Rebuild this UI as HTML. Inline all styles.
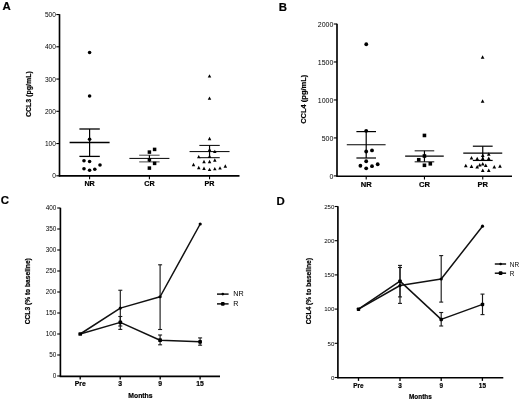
<!DOCTYPE html><html><head><meta charset="utf-8"><style>html,body{margin:0;padding:0;background:#fff;}svg{display:block;will-change:transform;}</style></head><body>
<svg width="520" height="400" viewBox="0 0 520 400" font-family='"Liberation Sans", sans-serif'>
<rect width="520" height="400" fill="#fff"/>
<text x="2.5" y="9.6" font-size="11.4" text-anchor="start" font-weight="bold" fill="#000" stroke="#000" stroke-width="0.2" >A</text>
<line x1="59.5" y1="14.2" x2="59.5" y2="176.5" stroke="#000" stroke-width="1.65"/>
<line x1="58.8" y1="175.8" x2="239.5" y2="175.8" stroke="#000" stroke-width="1.8"/>
<line x1="56.3" y1="175.8" x2="59.5" y2="175.8" stroke="#000" stroke-width="1.1"/>
<text x="55.9" y="178.3128" font-size="6.6" text-anchor="end" font-weight="normal" fill="#000" >0</text>
<line x1="56.3" y1="143.55" x2="59.5" y2="143.55" stroke="#000" stroke-width="1.1"/>
<text x="55.9" y="146.0628" font-size="6.6" text-anchor="end" font-weight="normal" fill="#000" >100</text>
<line x1="56.3" y1="111.3" x2="59.5" y2="111.3" stroke="#000" stroke-width="1.1"/>
<text x="55.9" y="113.8128" font-size="6.6" text-anchor="end" font-weight="normal" fill="#000" >200</text>
<line x1="56.3" y1="79.05" x2="59.5" y2="79.05" stroke="#000" stroke-width="1.1"/>
<text x="55.9" y="81.5628" font-size="6.6" text-anchor="end" font-weight="normal" fill="#000" >300</text>
<line x1="56.3" y1="46.8" x2="59.5" y2="46.8" stroke="#000" stroke-width="1.1"/>
<text x="55.9" y="49.312799999999996" font-size="6.6" text-anchor="end" font-weight="normal" fill="#000" >400</text>
<line x1="56.3" y1="14.55" x2="59.5" y2="14.55" stroke="#000" stroke-width="1.1"/>
<text x="55.9" y="17.0628" font-size="6.6" text-anchor="end" font-weight="normal" fill="#000" >500</text>
<line x1="89.6" y1="175.8" x2="89.6" y2="179.3" stroke="#000" stroke-width="1.1"/>
<text x="89.6" y="186.3" font-size="7.2" text-anchor="middle" font-weight="bold" fill="#000" stroke="#000" stroke-width="0.2" >NR</text>
<line x1="149.4" y1="175.8" x2="149.4" y2="179.3" stroke="#000" stroke-width="1.1"/>
<text x="149.4" y="186.3" font-size="7.2" text-anchor="middle" font-weight="bold" fill="#000" stroke="#000" stroke-width="0.2" >CR</text>
<line x1="209.55" y1="175.8" x2="209.55" y2="179.3" stroke="#000" stroke-width="1.1"/>
<text x="209.55" y="186.3" font-size="7.2" text-anchor="middle" font-weight="bold" fill="#000" stroke="#000" stroke-width="0.2" >PR</text>
<text x="0" y="0" font-size="7.0" text-anchor="middle" font-weight="bold" fill="#000" stroke="#000" stroke-width="0.2" transform="translate(31.3,94.1) rotate(-90)">CCL3 (pg/mL)</text>
<line x1="69.6" y1="142.5" x2="109.6" y2="142.5" stroke="#000" stroke-width="1.3"/>
<line x1="79.39999999999999" y1="129.0" x2="99.8" y2="129.0" stroke="#000" stroke-width="1.3"/>
<line x1="79.39999999999999" y1="156.4" x2="99.8" y2="156.4" stroke="#000" stroke-width="1.3"/>
<line x1="89.6" y1="129.0" x2="89.6" y2="156.4" stroke="#000" stroke-width="1.2"/>
<circle cx="89.6" cy="52.5" r="1.8" fill="#000"/>
<circle cx="89.6" cy="96" r="1.8" fill="#000"/>
<circle cx="89.6" cy="139.2" r="1.8" fill="#000"/>
<circle cx="84" cy="160.8" r="1.8" fill="#000"/>
<circle cx="89.6" cy="161.5" r="1.8" fill="#000"/>
<circle cx="100" cy="165" r="1.8" fill="#000"/>
<circle cx="84" cy="168.75" r="1.8" fill="#000"/>
<circle cx="89.6" cy="170.25" r="1.8" fill="#000"/>
<circle cx="94.8" cy="169.2" r="1.8" fill="#000"/>
<line x1="129.4" y1="158.4" x2="169.4" y2="158.4" stroke="#000" stroke-width="1.0"/>
<line x1="139.20000000000002" y1="155.2" x2="159.6" y2="155.2" stroke="#444" stroke-width="1.0"/>
<line x1="139.20000000000002" y1="161.9" x2="159.6" y2="161.9" stroke="#444" stroke-width="1.0"/>
<line x1="149.4" y1="155.2" x2="149.4" y2="161.9" stroke="#000" stroke-width="1.2"/>
<rect x="147.65" y="150.35" width="3.5" height="3.5" rx="0" fill="#000"/>
<rect x="152.85" y="147.65" width="3.5" height="3.5" rx="0" fill="#000"/>
<rect x="147.65" y="158.00" width="3.5" height="3.5" rx="0" fill="#000"/>
<rect x="152.85" y="161.65" width="3.5" height="3.5" rx="0" fill="#000"/>
<rect x="147.65" y="166.35" width="3.5" height="3.5" rx="0" fill="#000"/>
<line x1="189.55" y1="151.6" x2="229.55" y2="151.6" stroke="#000" stroke-width="1.0"/>
<line x1="199.35000000000002" y1="145.4" x2="219.75" y2="145.4" stroke="#000" stroke-width="1.0"/>
<line x1="199.35000000000002" y1="157.7" x2="219.75" y2="157.7" stroke="#000" stroke-width="1.0"/>
<line x1="209.55" y1="145.4" x2="209.55" y2="157.7" stroke="#000" stroke-width="1.2"/>
<polygon points="209.50,74.24 211.25,77.56 207.75,77.56" fill="#000"/>
<polygon points="209.50,96.44 211.25,99.76 207.75,99.76" fill="#000"/>
<polygon points="209.55,136.84 211.30,140.16 207.80,140.16" fill="#000"/>
<polygon points="209.55,147.84 211.30,151.16 207.80,151.16" fill="#000"/>
<polygon points="214.80,149.79 216.55,153.11 213.05,153.11" fill="#000"/>
<polygon points="198.75,155.04 200.50,158.36 197.00,158.36" fill="#000"/>
<polygon points="209.55,154.59 211.30,157.91 207.80,157.91" fill="#000"/>
<polygon points="204.00,159.84 205.75,163.16 202.25,163.16" fill="#000"/>
<polygon points="209.55,159.84 211.30,163.16 207.80,163.16" fill="#000"/>
<polygon points="214.80,158.34 216.55,161.66 213.05,161.66" fill="#000"/>
<polygon points="193.50,162.84 195.25,166.16 191.75,166.16" fill="#000"/>
<polygon points="225.30,164.34 227.05,167.66 223.55,167.66" fill="#000"/>
<polygon points="198.75,165.84 200.50,169.16 197.00,169.16" fill="#000"/>
<polygon points="204.00,166.59 205.75,169.91 202.25,169.91" fill="#000"/>
<polygon points="209.55,167.64 211.30,170.96 207.80,170.96" fill="#000"/>
<polygon points="214.80,167.04 216.55,170.36 213.05,170.36" fill="#000"/>
<polygon points="220.00,166.14 221.75,169.46 218.25,169.46" fill="#000"/>
<text x="278.8" y="10.8" font-size="11.4" text-anchor="start" font-weight="bold" fill="#000" stroke="#000" stroke-width="0.2" >B</text>
<line x1="337.0" y1="23.8" x2="337.0" y2="176.6" stroke="#000" stroke-width="1.65"/>
<line x1="336.3" y1="176.20000000000002" x2="512" y2="176.20000000000002" stroke="#000" stroke-width="1.5"/>
<line x1="333.8" y1="175.9" x2="337.0" y2="175.9" stroke="#000" stroke-width="1.1"/>
<text x="333.4" y="178.556" font-size="7.0" text-anchor="end" font-weight="normal" fill="#000" >0</text>
<line x1="333.8" y1="137.93" x2="337.0" y2="137.93" stroke="#000" stroke-width="1.1"/>
<text x="333.4" y="140.586" font-size="7.0" text-anchor="end" font-weight="normal" fill="#000" >500</text>
<line x1="333.8" y1="99.95" x2="337.0" y2="99.95" stroke="#000" stroke-width="1.1"/>
<text x="333.4" y="102.60600000000001" font-size="7.0" text-anchor="end" font-weight="normal" fill="#000" >1000</text>
<line x1="333.8" y1="61.97" x2="337.0" y2="61.97" stroke="#000" stroke-width="1.1"/>
<text x="333.4" y="64.626" font-size="7.0" text-anchor="end" font-weight="normal" fill="#000" >1500</text>
<line x1="333.8" y1="24.0" x2="337.0" y2="24.0" stroke="#000" stroke-width="1.1"/>
<text x="333.4" y="26.656" font-size="7.0" text-anchor="end" font-weight="normal" fill="#000" >2000</text>
<line x1="366.2" y1="175.9" x2="366.2" y2="179.5" stroke="#000" stroke-width="1.1"/>
<text x="366.2" y="187.1" font-size="7.6" text-anchor="middle" font-weight="bold" fill="#000" stroke="#000" stroke-width="0.2" >NR</text>
<line x1="424.45" y1="175.9" x2="424.45" y2="179.5" stroke="#000" stroke-width="1.1"/>
<text x="424.45" y="187.1" font-size="7.6" text-anchor="middle" font-weight="bold" fill="#000" stroke="#000" stroke-width="0.2" >CR</text>
<line x1="482.75" y1="175.9" x2="482.75" y2="179.5" stroke="#000" stroke-width="1.1"/>
<text x="482.75" y="187.1" font-size="7.6" text-anchor="middle" font-weight="bold" fill="#000" stroke="#000" stroke-width="0.2" >PR</text>
<text x="0" y="0" font-size="7.5" text-anchor="middle" font-weight="bold" fill="#000" stroke="#000" stroke-width="0.2" transform="translate(305.8,99.25) rotate(-90)">CCL4 (pg/mL)</text>
<line x1="346.8" y1="144.75" x2="385.59999999999997" y2="144.75" stroke="#000" stroke-width="1.2"/>
<line x1="356.4" y1="131.6" x2="376.0" y2="131.6" stroke="#000" stroke-width="1.2"/>
<line x1="356.4" y1="158.0" x2="376.0" y2="158.0" stroke="#000" stroke-width="1.2"/>
<line x1="366.2" y1="131.6" x2="366.2" y2="158.0" stroke="#000" stroke-width="1.2"/>
<circle cx="366.25" cy="44.25" r="1.9" fill="#000"/>
<circle cx="366.2" cy="130.8" r="1.9" fill="#000"/>
<circle cx="366.2" cy="151.5" r="1.9" fill="#000"/>
<circle cx="372" cy="150.4" r="1.9" fill="#000"/>
<circle cx="366.2" cy="161.25" r="1.9" fill="#000"/>
<circle cx="360.4" cy="165.75" r="1.9" fill="#000"/>
<circle cx="366.2" cy="168.3" r="1.9" fill="#000"/>
<circle cx="372" cy="166.2" r="1.9" fill="#000"/>
<circle cx="377.7" cy="164.25" r="1.9" fill="#000"/>
<line x1="405.15" y1="156.2" x2="443.75" y2="156.2" stroke="#000" stroke-width="1.2"/>
<line x1="414.65" y1="150.8" x2="434.25" y2="150.8" stroke="#333" stroke-width="1.2"/>
<line x1="414.65" y1="161.8" x2="434.25" y2="161.8" stroke="#333" stroke-width="1.2"/>
<line x1="424.45" y1="150.8" x2="424.45" y2="161.8" stroke="#000" stroke-width="1.2"/>
<rect x="422.65" y="133.65" width="3.6" height="3.6" rx="0" fill="#000"/>
<rect x="422.65" y="154.20" width="3.6" height="3.6" rx="0" fill="#000"/>
<rect x="416.95" y="157.95" width="3.6" height="3.6" rx="0" fill="#000"/>
<rect x="422.65" y="163.50" width="3.6" height="3.6" rx="0" fill="#000"/>
<rect x="428.50" y="162.00" width="3.6" height="3.6" rx="0" fill="#000"/>
<line x1="463.25" y1="153.1" x2="502.25" y2="153.1" stroke="#000" stroke-width="1.2"/>
<line x1="472.85" y1="146.2" x2="492.65" y2="146.2" stroke="#000" stroke-width="1.2"/>
<line x1="472.85" y1="160.45" x2="492.65" y2="160.45" stroke="#000" stroke-width="1.2"/>
<line x1="482.75" y1="146.2" x2="482.75" y2="160.45" stroke="#000" stroke-width="1.2"/>
<polygon points="482.60,55.24 484.45,58.76 480.75,58.76" fill="#000"/>
<polygon points="482.60,99.24 484.45,102.76 480.75,102.76" fill="#000"/>
<polygon points="482.75,153.44 484.60,156.96 480.90,156.96" fill="#000"/>
<polygon points="488.75,152.24 490.60,155.76 486.90,155.76" fill="#000"/>
<polygon points="471.50,155.99 473.35,159.51 469.65,159.51" fill="#000"/>
<polygon points="477.20,156.74 479.05,160.26 475.35,160.26" fill="#000"/>
<polygon points="482.75,156.44 484.60,159.96 480.90,159.96" fill="#000"/>
<polygon points="488.75,156.44 490.60,159.96 486.90,159.96" fill="#000"/>
<polygon points="465.80,163.74 467.65,167.26 463.95,167.26" fill="#000"/>
<polygon points="471.50,164.54 473.35,168.06 469.65,168.06" fill="#000"/>
<polygon points="477.20,164.99 479.05,168.51 475.35,168.51" fill="#000"/>
<polygon points="479.75,163.04 481.60,166.56 477.90,166.56" fill="#000"/>
<polygon points="482.75,161.99 484.60,165.51 480.90,165.51" fill="#000"/>
<polygon points="485.75,163.49 487.60,167.01 483.90,167.01" fill="#000"/>
<polygon points="494.30,164.99 496.15,168.51 492.45,168.51" fill="#000"/>
<polygon points="500.00,164.24 501.85,167.76 498.15,167.76" fill="#000"/>
<polygon points="482.75,168.44 484.60,171.96 480.90,171.96" fill="#000"/>
<polygon points="488.75,168.44 490.60,171.96 486.90,171.96" fill="#000"/>
<text x="0.8" y="203.7" font-size="11.4" text-anchor="start" font-weight="bold" fill="#000" stroke="#000" stroke-width="0.2" >C</text>
<line x1="60.4" y1="207.8" x2="60.4" y2="376.7" stroke="#000" stroke-width="1.65"/>
<line x1="59.699999999999996" y1="376.3" x2="220" y2="376.3" stroke="#000" stroke-width="1.7"/>
<line x1="57.199999999999996" y1="376.0" x2="60.4" y2="376.0" stroke="#000" stroke-width="1.1"/>
<text x="56.4" y="378.4412" font-size="6.4" text-anchor="end" font-weight="normal" fill="#000" >0</text>
<line x1="57.199999999999996" y1="355.0" x2="60.4" y2="355.0" stroke="#000" stroke-width="1.1"/>
<text x="56.4" y="357.4412" font-size="6.4" text-anchor="end" font-weight="normal" fill="#000" >50</text>
<line x1="57.199999999999996" y1="334.0" x2="60.4" y2="334.0" stroke="#000" stroke-width="1.1"/>
<text x="56.4" y="336.4412" font-size="6.4" text-anchor="end" font-weight="normal" fill="#000" >100</text>
<line x1="57.199999999999996" y1="313.0" x2="60.4" y2="313.0" stroke="#000" stroke-width="1.1"/>
<text x="56.4" y="315.4412" font-size="6.4" text-anchor="end" font-weight="normal" fill="#000" >150</text>
<line x1="57.199999999999996" y1="292.0" x2="60.4" y2="292.0" stroke="#000" stroke-width="1.1"/>
<text x="56.4" y="294.4412" font-size="6.4" text-anchor="end" font-weight="normal" fill="#000" >200</text>
<line x1="57.199999999999996" y1="271.0" x2="60.4" y2="271.0" stroke="#000" stroke-width="1.1"/>
<text x="56.4" y="273.4412" font-size="6.4" text-anchor="end" font-weight="normal" fill="#000" >250</text>
<line x1="57.199999999999996" y1="250.0" x2="60.4" y2="250.0" stroke="#000" stroke-width="1.1"/>
<text x="56.4" y="252.4412" font-size="6.4" text-anchor="end" font-weight="normal" fill="#000" >300</text>
<line x1="57.199999999999996" y1="229.0" x2="60.4" y2="229.0" stroke="#000" stroke-width="1.1"/>
<text x="56.4" y="231.4412" font-size="6.4" text-anchor="end" font-weight="normal" fill="#000" >350</text>
<line x1="57.199999999999996" y1="208.0" x2="60.4" y2="208.0" stroke="#000" stroke-width="1.1"/>
<text x="56.4" y="210.4412" font-size="6.4" text-anchor="end" font-weight="normal" fill="#000" >400</text>
<line x1="80.2" y1="376.0" x2="80.2" y2="379.4" stroke="#000" stroke-width="1.3"/>
<text x="80.2" y="386.0" font-size="6.8" text-anchor="middle" font-weight="bold" fill="#000" stroke="#000" stroke-width="0.2" >Pre</text>
<line x1="120.2" y1="376.0" x2="120.2" y2="379.4" stroke="#000" stroke-width="1.3"/>
<text x="120.2" y="386.0" font-size="6.8" text-anchor="middle" font-weight="bold" fill="#000" stroke="#000" stroke-width="0.2" >3</text>
<line x1="160.2" y1="376.0" x2="160.2" y2="379.4" stroke="#000" stroke-width="1.3"/>
<text x="160.2" y="386.0" font-size="6.8" text-anchor="middle" font-weight="bold" fill="#000" stroke="#000" stroke-width="0.2" >9</text>
<line x1="200.1" y1="376.0" x2="200.1" y2="379.4" stroke="#000" stroke-width="1.3"/>
<text x="200.1" y="386.0" font-size="6.8" text-anchor="middle" font-weight="bold" fill="#000" stroke="#000" stroke-width="0.2" >15</text>
<text x="140.4" y="398.2" font-size="6.8" text-anchor="middle" font-weight="bold" fill="#000" stroke="#000" stroke-width="0.2" >Months</text>
<text x="0" y="0" font-size="6.65" text-anchor="middle" font-weight="bold" fill="#000" stroke="#000" stroke-width="0.2" transform="translate(30.1,291.25) rotate(-90)">CCL3 (% to baseline)</text>
<line x1="120.3" y1="290.25" x2="120.3" y2="326.0" stroke="#1a1a1a" stroke-width="1.15"/>
<line x1="118.3" y1="290.25" x2="122.3" y2="290.25" stroke="#1a1a1a" stroke-width="1.1"/>
<line x1="118.3" y1="326.0" x2="122.3" y2="326.0" stroke="#1a1a1a" stroke-width="1.1"/>
<line x1="120.3" y1="316.5" x2="120.3" y2="329.4" stroke="#1a1a1a" stroke-width="1.15"/>
<line x1="118.3" y1="316.5" x2="122.3" y2="316.5" stroke="#1a1a1a" stroke-width="1.1"/>
<line x1="118.3" y1="329.4" x2="122.3" y2="329.4" stroke="#1a1a1a" stroke-width="1.1"/>
<line x1="160.1" y1="264.8" x2="160.1" y2="329.5" stroke="#1a1a1a" stroke-width="1.15"/>
<line x1="158.1" y1="264.8" x2="162.1" y2="264.8" stroke="#1a1a1a" stroke-width="1.1"/>
<line x1="158.1" y1="329.5" x2="162.1" y2="329.5" stroke="#1a1a1a" stroke-width="1.1"/>
<line x1="160.1" y1="335.0" x2="160.1" y2="344.8" stroke="#1a1a1a" stroke-width="1.15"/>
<line x1="158.1" y1="335.0" x2="162.1" y2="335.0" stroke="#1a1a1a" stroke-width="1.1"/>
<line x1="158.1" y1="344.8" x2="162.1" y2="344.8" stroke="#1a1a1a" stroke-width="1.1"/>
<line x1="200.1" y1="337.9" x2="200.1" y2="345.2" stroke="#1a1a1a" stroke-width="1.15"/>
<line x1="198.1" y1="337.9" x2="202.1" y2="337.9" stroke="#1a1a1a" stroke-width="1.1"/>
<line x1="198.1" y1="345.2" x2="202.1" y2="345.2" stroke="#1a1a1a" stroke-width="1.1"/>
<polyline points="80.2,334 120.3,308.1 160.1,296.75 200.2,224" fill="none" stroke="#111" stroke-width="1.5" stroke-linejoin="round"/>
<polyline points="80.2,334 120.3,322.4 160.1,340.2 200.1,341.8" fill="none" stroke="#111" stroke-width="1.5" stroke-linejoin="round"/>
<circle cx="120.3" cy="308.1" r="1.6" fill="#000"/>
<circle cx="160.1" cy="296.75" r="1.6" fill="#000"/>
<circle cx="200.2" cy="224" r="1.6" fill="#000"/>
<rect x="78.35" y="332.15" width="3.7" height="3.7" rx="0.9" fill="#000"/>
<rect x="118.45" y="320.55" width="3.7" height="3.7" rx="0.9" fill="#000"/>
<rect x="158.25" y="338.35" width="3.7" height="3.7" rx="0.9" fill="#000"/>
<rect x="198.25" y="339.95" width="3.7" height="3.7" rx="0.9" fill="#000"/>
<line x1="217.0" y1="294.1" x2="228.6" y2="294.1" stroke="#000" stroke-width="1.4"/>
<circle cx="222.8" cy="294.1" r="1.3" fill="#000"/>
<text x="233.2" y="296.05" font-size="7.2" text-anchor="start" font-weight="normal" fill="#000" >NR</text>
<line x1="217.0" y1="303.90000000000003" x2="228.6" y2="303.90000000000003" stroke="#000" stroke-width="1.4"/>
<rect x="220.95" y="302.05" width="3.7" height="3.7" rx="1.0" fill="#000"/>
<text x="233.2" y="305.85" font-size="7.2" text-anchor="start" font-weight="normal" fill="#000" >R</text>
<text x="276.4" y="204.8" font-size="11.4" text-anchor="start" font-weight="bold" fill="#000" stroke="#000" stroke-width="0.2" >D</text>
<line x1="337.9" y1="206.3" x2="337.9" y2="378.2" stroke="#000" stroke-width="1.65"/>
<line x1="337.2" y1="377.75" x2="503.3" y2="377.75" stroke="#000" stroke-width="1.6"/>
<line x1="334.7" y1="377.5" x2="337.9" y2="377.5" stroke="#000" stroke-width="1.1"/>
<text x="334.29999999999995" y="379.8338" font-size="6.1" text-anchor="end" font-weight="normal" fill="#000" >0</text>
<line x1="334.7" y1="343.3" x2="337.9" y2="343.3" stroke="#000" stroke-width="1.1"/>
<text x="334.29999999999995" y="345.6338" font-size="6.1" text-anchor="end" font-weight="normal" fill="#000" >50</text>
<line x1="334.7" y1="309.1" x2="337.9" y2="309.1" stroke="#000" stroke-width="1.1"/>
<text x="334.29999999999995" y="311.4338" font-size="6.1" text-anchor="end" font-weight="normal" fill="#000" >100</text>
<line x1="334.7" y1="274.9" x2="337.9" y2="274.9" stroke="#000" stroke-width="1.1"/>
<text x="334.29999999999995" y="277.2338" font-size="6.1" text-anchor="end" font-weight="normal" fill="#000" >150</text>
<line x1="334.7" y1="240.7" x2="337.9" y2="240.7" stroke="#000" stroke-width="1.1"/>
<text x="334.29999999999995" y="243.03379999999999" font-size="6.1" text-anchor="end" font-weight="normal" fill="#000" >200</text>
<line x1="334.7" y1="206.5" x2="337.9" y2="206.5" stroke="#000" stroke-width="1.1"/>
<text x="334.29999999999995" y="208.8338" font-size="6.1" text-anchor="end" font-weight="normal" fill="#000" >250</text>
<line x1="358.5" y1="377.5" x2="358.5" y2="380.9" stroke="#000" stroke-width="1.3"/>
<text x="358.5" y="387.7" font-size="6.4" text-anchor="middle" font-weight="bold" fill="#000" stroke="#000" stroke-width="0.2" >Pre</text>
<line x1="400.0" y1="377.5" x2="400.0" y2="380.9" stroke="#000" stroke-width="1.3"/>
<text x="400.0" y="387.7" font-size="6.4" text-anchor="middle" font-weight="bold" fill="#000" stroke="#000" stroke-width="0.2" >3</text>
<line x1="441.2" y1="377.5" x2="441.2" y2="380.9" stroke="#000" stroke-width="1.3"/>
<text x="441.2" y="387.7" font-size="6.4" text-anchor="middle" font-weight="bold" fill="#000" stroke="#000" stroke-width="0.2" >9</text>
<line x1="482.4" y1="377.5" x2="482.4" y2="380.9" stroke="#000" stroke-width="1.3"/>
<text x="482.4" y="387.7" font-size="6.4" text-anchor="middle" font-weight="bold" fill="#000" stroke="#000" stroke-width="0.2" >15</text>
<text x="420.4" y="399.2" font-size="6.4" text-anchor="middle" font-weight="bold" fill="#000" stroke="#000" stroke-width="0.2" >Months</text>
<text x="0" y="0" font-size="6.67" text-anchor="middle" font-weight="bold" fill="#000" stroke="#000" stroke-width="0.2" transform="translate(311.4,291.1) rotate(-90)">CCL4 (% to baseline)</text>
<line x1="400.0" y1="267.5" x2="400.0" y2="303.4" stroke="#1a1a1a" stroke-width="1.15"/>
<line x1="398.0" y1="267.5" x2="402.0" y2="267.5" stroke="#1a1a1a" stroke-width="1.1"/>
<line x1="398.0" y1="303.4" x2="402.0" y2="303.4" stroke="#1a1a1a" stroke-width="1.1"/>
<line x1="400.0" y1="265.4" x2="400.0" y2="296.9" stroke="#1a1a1a" stroke-width="1.15"/>
<line x1="398.0" y1="265.4" x2="402.0" y2="265.4" stroke="#1a1a1a" stroke-width="1.1"/>
<line x1="398.0" y1="296.9" x2="402.0" y2="296.9" stroke="#1a1a1a" stroke-width="1.1"/>
<line x1="441.2" y1="255.6" x2="441.2" y2="302.1" stroke="#1a1a1a" stroke-width="1.15"/>
<line x1="439.2" y1="255.6" x2="443.2" y2="255.6" stroke="#1a1a1a" stroke-width="1.1"/>
<line x1="439.2" y1="302.1" x2="443.2" y2="302.1" stroke="#1a1a1a" stroke-width="1.1"/>
<line x1="441.2" y1="312.5" x2="441.2" y2="326.0" stroke="#1a1a1a" stroke-width="1.15"/>
<line x1="439.2" y1="312.5" x2="443.2" y2="312.5" stroke="#1a1a1a" stroke-width="1.1"/>
<line x1="439.2" y1="326.0" x2="443.2" y2="326.0" stroke="#1a1a1a" stroke-width="1.1"/>
<line x1="482.5" y1="294.1" x2="482.5" y2="314.6" stroke="#1a1a1a" stroke-width="1.15"/>
<line x1="480.5" y1="294.1" x2="484.5" y2="294.1" stroke="#1a1a1a" stroke-width="1.1"/>
<line x1="480.5" y1="314.6" x2="484.5" y2="314.6" stroke="#1a1a1a" stroke-width="1.1"/>
<polyline points="358.5,309.2 400.0,285.5 441.2,279.0 482.5,226.2" fill="none" stroke="#111" stroke-width="1.5" stroke-linejoin="round"/>
<polyline points="358.5,309.2 400.0,281.15 441.2,319.4 482.5,304.4" fill="none" stroke="#111" stroke-width="1.5" stroke-linejoin="round"/>
<circle cx="400.0" cy="285.5" r="1.6" fill="#000"/>
<circle cx="441.2" cy="279.0" r="1.6" fill="#000"/>
<circle cx="482.5" cy="226.2" r="1.6" fill="#000"/>
<rect x="356.75" y="307.45" width="3.5" height="3.5" rx="0.8" fill="#000"/>
<rect x="398.25" y="279.40" width="3.5" height="3.5" rx="0.8" fill="#000"/>
<rect x="439.45" y="317.65" width="3.5" height="3.5" rx="0.8" fill="#000"/>
<rect x="480.75" y="302.65" width="3.5" height="3.5" rx="0.8" fill="#000"/>
<line x1="494.8" y1="264.0" x2="506.1" y2="264.0" stroke="#000" stroke-width="1.4"/>
<circle cx="500.6" cy="264.0" r="1.3" fill="#000"/>
<text x="509.8" y="266.5" font-size="6.4" text-anchor="start" font-weight="normal" fill="#000" >NR</text>
<line x1="494.8" y1="273.2" x2="506.1" y2="273.2" stroke="#000" stroke-width="1.4"/>
<rect x="498.75" y="271.35" width="3.7" height="3.7" rx="1.0" fill="#000"/>
<text x="509.8" y="275.7" font-size="6.4" text-anchor="start" font-weight="normal" fill="#000" >R</text>
</svg></body></html>
